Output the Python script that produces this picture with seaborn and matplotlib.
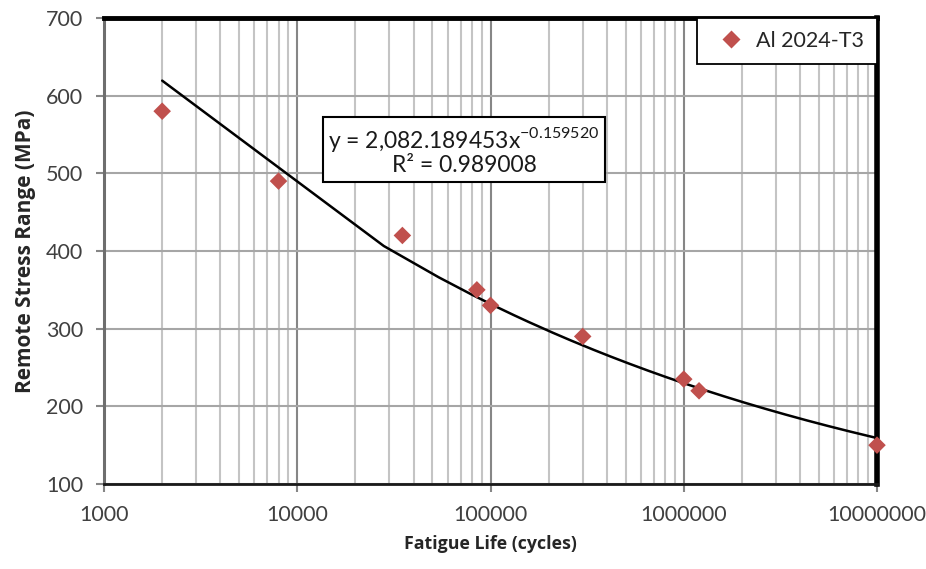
import numpy as np
import pandas as pd
import matplotlib
matplotlib.use("Agg")
import matplotlib.pyplot as plt
import seaborn as sns
from matplotlib.ticker import LogLocator, FixedLocator, FuncFormatter, NullFormatter

# ---- data ----
cycles = [2000, 8000, 35000, 85000, 100000, 300000, 1000000, 1200000, 10000000]
stress = [580, 490, 420, 350, 330, 290, 235, 220, 150]
series_name = "Al 2024-T3"
coef_a = 2082.189453
coef_b = -0.159520
r_squared = 0.989008
x_ticks = [1000, 10000, 100000, 1000000, 10000000]
y_ticks = [100, 200, 300, 400, 500, 600, 700]

df = pd.DataFrame({"cycles": cycles, "stress": stress, "series": series_name})
trend_x = np.linspace(min(cycles), max(cycles), 385)
trend_df = pd.DataFrame({"cycles": trend_x, "stress": coef_a * trend_x ** coef_b})

sns.set_theme(style="white")
plt.rcParams["font.family"] = ["Lato", "DejaVu Sans"]
plt.rcParams["mathtext.fontset"] = "custom"
plt.rcParams["mathtext.rm"] = "Lato"

fig = plt.figure(figsize=(9.26, 5.69), dpi=100)
ax = fig.add_axes([104/926, 1-484/569, (877-104)/926, (484-18)/569])

sns.lineplot(data=trend_df, x="cycles", y="stress", color="black", lw=1.8,
             sort=False, estimator=None, ax=ax, zorder=3, legend=False)
sns.scatterplot(data=df, x="cycles", y="stress", hue="series", palette=["#C0504D"],
                marker="D", s=80, edgecolor="none", ax=ax, zorder=4, clip_on=False)

ax.set_xscale("log")
ax.set_xlim(1000, 10000000)
ax.set_ylim(100, 700)
ax.xaxis.set_major_locator(FixedLocator(x_ticks))
ax.xaxis.set_major_formatter(FuncFormatter(lambda v, p: f"{int(round(v))}"))
ax.xaxis.set_minor_locator(LogLocator(base=10, subs=np.arange(2, 10)))
ax.xaxis.set_minor_formatter(NullFormatter())
ax.yaxis.set_major_locator(FixedLocator(y_ticks))

ax.grid(True, which="major", axis="x", color="#868686", lw=1.5)
ax.grid(True, which="minor", axis="x", color="#C4C4C4", lw=1.5)
ax.grid(True, which="major", axis="y", color="#A6A6A6", lw=1.5)
ax.set_axisbelow(True)

ax.tick_params(axis="both", which="major", direction="out", length=6, width=1.5,
               color="#868686", labelsize=15.5, labelcolor="#404040")
ax.tick_params(axis="x", which="minor", length=0)
ax.tick_params(axis="x", which="major", pad=9, bottom=True)
ax.tick_params(axis="y", which="major", pad=9, left=True)

for side, col, w in [("left", "#6E6E6E", 2.2), ("bottom", "#1A1A1A", 2.0),
                     ("top", "black", 3.5), ("right", "black", 4.0)]:
    ax.spines[side].set_visible(True)
    ax.spines[side].set_color(col)
    ax.spines[side].set_linewidth(w)

ax.set_xlabel("Fatigue Life (cycles)", family=["Open Sans", "DejaVu Sans"],
              size=12.8, weight="bold", labelpad=7)
ax.set_ylabel("Remote Stress Range (MPa)", family=["Open Sans", "DejaVu Sans"],
              size=15, weight="bold")
ax.yaxis.set_label_coords((36 - 104) / 773, 0.5)

leg = ax.legend(loc="upper right", borderaxespad=0, frameon=True, fancybox=False,
                edgecolor="black", framealpha=1, fontsize=15.5, handletextpad=0.15,
                borderpad=0.6, handlelength=2.0)
leg.get_frame().set_linewidth(1.3)
leg.set_zorder(6)

eq = f"y = {coef_a:,.6f}x$^{{\\mathregular{{{coef_b:.6f}}}}}$\nR² = {r_squared:.6f}"
ax.text(464/926, 1-150.5/569, eq, transform=fig.transFigure, ha="center", va="center",
        fontsize=16.5, color="#1A1A1A", linespacing=1.1, zorder=7,
        bbox=dict(boxstyle="square,pad=0.25", fc="white", ec="black", lw=1.5))

fig.savefig("out.png", dpi=100)
